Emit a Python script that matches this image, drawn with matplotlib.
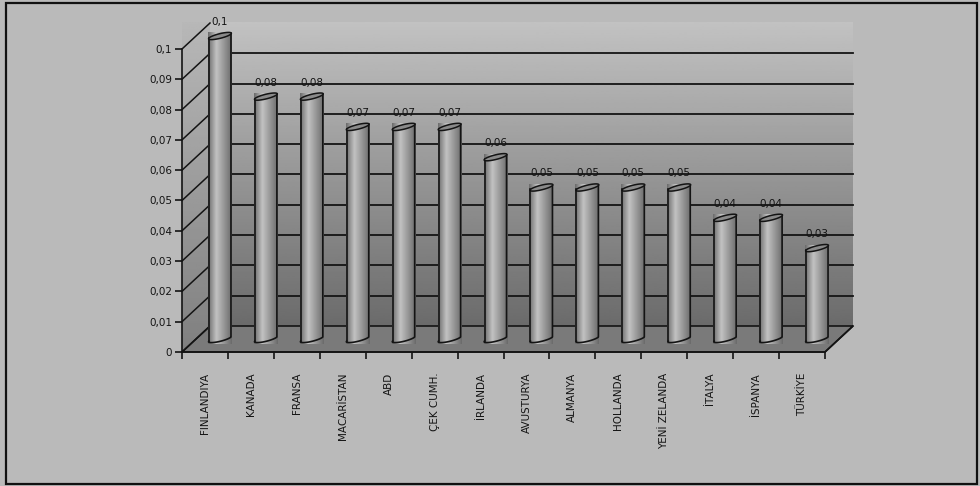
import numpy as np
import matplotlib.pyplot as plt
from matplotlib.patches import Polygon, Rectangle
from matplotlib.ticker import FuncFormatter

countries = ["FINLANDIYA", "KANADA", "FRANSA", "MACARİSTAN", "ABD", "ÇEK CUMH.", "İRLANDA",
             "AVUSTURYA", "ALMANYA", "HOLLANDA", "YENİ ZELANDA", "İTALYA", "İSPANYA", "TÜRKİYE"]
values = [0.10, 0.08, 0.08, 0.07, 0.07, 0.07, 0.06, 0.05, 0.05, 0.05, 0.05, 0.04, 0.04, 0.03]
y_ticks = [0, 0.01, 0.02, 0.03, 0.04, 0.05, 0.06, 0.07, 0.08, 0.09, 0.1]

def comma(v, pos=None):
    s = ("%.2f" % v).rstrip("0").rstrip(".")
    return s.replace(".", ",")

plt.rcParams['font.family'] = ['DejaVu Sans']

fig = plt.figure(figsize=(9.8, 4.86), dpi=100, facecolor='#bababa')
ax = fig.add_axes([182/980, 134/486, 643/980, 303/486])
n = len(values)
ax.set_xlim(0, n)
ax.set_ylim(0, 0.1)
ax.patch.set_visible(False)

# pixel -> data units
PXX = n/643.0
PXY = 0.1/303.0
DX = 28*PXX
DY = 26*PXY
ink = '#141414'

# back wall with vertical gradient
grad = np.linspace(0.42, 0.76, 200).reshape(-1, 1)
wall = Rectangle((DX, DY), n, 0.1, transform=ax.transData, fc='none', ec='none')
ax.add_patch(wall)
im = ax.imshow(grad, cmap='gray', vmin=0, vmax=1, origin='lower', aspect='auto',
               extent=[DX, n + DX, DY, 0.1 + DY], zorder=1, clip_on=False)
im.set_clip_path(wall)

# side wall
side = Polygon([(0, 0), (DX, DY), (DX, 0.1 + DY), (0, 0.1)], closed=True,
               fc='none', ec='none', clip_on=False)
ax.add_patch(side)
im2 = ax.imshow(np.linspace(0.5, 0.72, 200).reshape(-1, 1), cmap='gray', vmin=0, vmax=1,
                origin='lower', aspect='auto', extent=[0, DX, 0, 0.1 + DY], zorder=1,
                clip_on=False)
im2.set_clip_path(side)

# floor
ax.add_patch(Polygon([(0, 0), (n, 0), (n + DX, DY), (DX, DY)], closed=True,
                     fc='#7a7a7a', ec=ink, lw=1.2, zorder=2, clip_on=False))

# gridlines on back wall + diagonals on side wall
for v in y_ticks:
    if 0 < v < 0.1:
        ax.plot([DX, n + DX], [v + DY, v + DY], color=ink, lw=1.3, zorder=2, clip_on=False)
    ax.plot([0, DX], [v, v + DY], color=ink, lw=1.1, zorder=2, clip_on=False)
ax.plot([n, n + DX], [0, DY], color=ink, lw=1.2, zorder=2, clip_on=False)

# cylinders (tilted ellipse caps)
t = np.linspace(0, 2*np.pi, 80)
ex = 11*np.cos(t) + 3*np.sin(t)
ey = 3*np.sin(t) + 2*np.cos(t)
half = (t >= np.pi)
for i, v in enumerate(values):
    xc = i + 0.5 + 15*PXX
    y0 = 13*PXY
    top = y0 + v
    bx = xc + ex[half]*PXX
    by = y0 + ey[half]*PXY
    xl, xr = xc - 11*PXX, xc + 11*PXX
    body_pts = list(zip(bx, by)) + [(xr, top + 2*PXY), (xl, top - 2*PXY)]
    body = Polygon(body_pts, closed=True, fc='none', ec='none', clip_on=False)
    ax.add_patch(body)
    prof = np.interp(np.linspace(0, 1, 60), [0, 0.35, 1], [0.42, 0.76, 0.42]).reshape(1, -1)
    bim = ax.imshow(prof, cmap='gray', vmin=0, vmax=1, aspect='auto',
                    extent=[xc - 12*PXX, xc + 12*PXX, y0 - 5*PXY, top + 3*PXY],
                    zorder=3, clip_on=False)
    bim.set_clip_path(body)
    ax.plot(list(bx) + [xr], list(by) + [top + 2*PXY], color=ink, lw=1.2, zorder=4, clip_on=False)
    ax.plot([xl, xl], [y0 - 2*PXY, top - 2*PXY], color=ink, lw=1.2, zorder=4, clip_on=False)
    cap = Polygon(list(zip(xc + ex*PXX, top + ey*PXY)), closed=True, fc='#8a8a8a',
                  ec=ink, lw=1.1, zorder=5, clip_on=False)
    ax.add_patch(cap)
    ax.text(xc, top + 11*PXY, comma(v), ha='center', va='baseline', fontsize=7.5,
            color=ink, zorder=6, clip_on=False)

# axes
for s in ['top', 'right']:
    ax.spines[s].set_visible(False)
ax.spines['left'].set_color(ink)
ax.spines['bottom'].set_color(ink)
ax.spines['left'].set_linewidth(1.2)
ax.spines['bottom'].set_linewidth(1.2)
ax.spines['bottom'].set_zorder(2.5)
ax.set_yticks(y_ticks)
ax.yaxis.set_major_formatter(FuncFormatter(comma))
ax.tick_params(axis='y', direction='out', length=5, width=1.2, colors=ink, labelsize=7.5, pad=2)
ax.set_xticks(np.arange(n + 1))
ax.set_xticklabels([])
ax.tick_params(axis='x', which='major', direction='out', length=5, width=1.2, colors=ink)
ax.set_xticks(np.arange(n) + 0.5, minor=True)
ax.set_xticklabels(countries, minor=True, rotation=90, fontsize=7.5, color=ink)
ax.tick_params(axis='x', which='minor', length=0, pad=15)

fig.add_artist(Rectangle((6/980, 2/486), 971/980, 481/486, transform=fig.transFigure,
                         fill=False, ec='#111111', lw=1.6))

fig.savefig('out.png', dpi=100, facecolor=fig.get_facecolor())
